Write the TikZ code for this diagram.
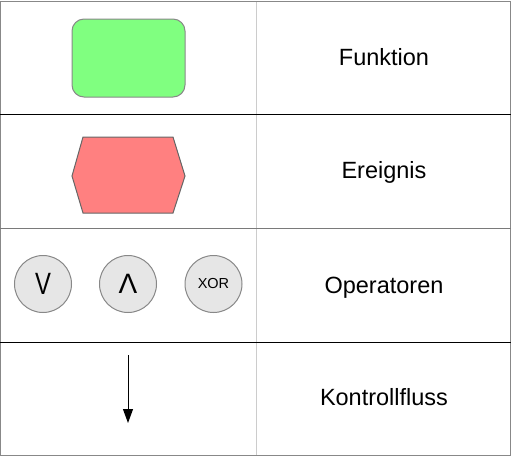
\documentclass[tikz,border=0pt]{standalone}
\usepackage{fontspec}
\setmainfont{Liberation Sans}
\usetikzlibrary{arrows.meta}
\definecolor{funcgreen}{HTML}{80FF80}
\definecolor{eventred}{HTML}{FF8080}
\definecolor{opgray}{HTML}{E6E6E6}
\definecolor{framegray}{HTML}{888888}
\definecolor{splitgray}{HTML}{CCCCCC}
\tikzstyle{caption} = [font=\fontsize{23.5}{28}\selectfont, anchor=base, inner sep=0pt]
\tikzstyle{func} = [draw=framegray, fill=funcgreen, rounded corners=12pt, minimum width=113pt, minimum height=78pt]
\tikzstyle{op} = [circle, draw=framegray, fill=opgray, minimum size=57pt, inner sep=0pt]
\tikzstyle{opsign} = [font=\fontsize{28}{32}\selectfont]

\begin{document}
\begin{tikzpicture}[x=1pt, y=-1pt, line width=1pt]
		\useasboundingbox (0,0) rectangle (512,456);
		% table
		\draw[splitgray] (256,1) -- (256,455);
		\draw[framegray] (0.5,1.5) rectangle (510.5,455);
		\draw[black] (0,114) -- (511,114);
		\draw[framegray!90!black] (0,228) -- (511,228);
		\draw[black] (0,342) -- (511,342);
		% symbols
		\node[func] (funktion) at (128.5,58) {};
		\draw[draw=black!60, fill=eventred] (83,137) -- (173,137) -- (185,176) -- (173,213)
			-- (83,213) -- (72,176) -- cycle;
		\node[op, opsign] (oder) at (43,284) {\raisebox{1pt}{\scalebox{0.85}[1.1]{V}}};
		\node[op, opsign] (und) at (128,284) {\raisebox{-2pt}{Λ}};
		\node[op, font=\fontsize{14.5}{17}\selectfont] (xor) at (213.5,284) {XOR};
		\coordinate (flowtop) at (128,355);
		\coordinate (flowend) at (128,423);
		\draw[-{Triangle[width=10pt,length=14pt]}] (flowtop) -- (flowend);
		% names
		\node[caption] (tfunk) at (384,65) {Funktion};
		\node[caption] (tereig) at (384,178) {Ereignis};
		\node[caption] (toper) at (384,293) {Operatoren};
		\node[caption] (tkontr) at (384,405) {Kontrollfluss};
\end{tikzpicture}
\end{document}
